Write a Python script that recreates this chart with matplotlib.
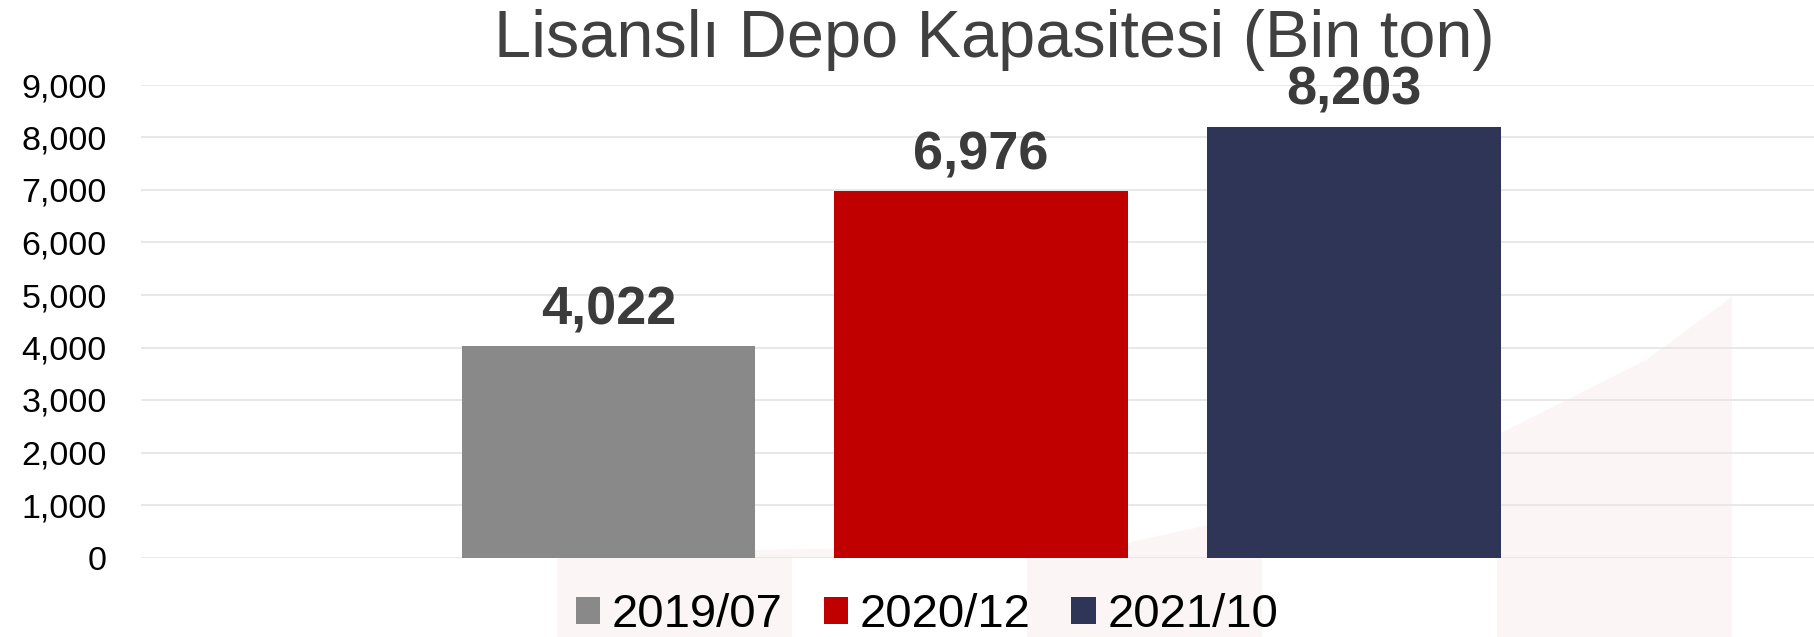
import matplotlib.pyplot as plt
from matplotlib.patches import Polygon, Rectangle
from matplotlib.ticker import FuncFormatter

plt.rcParams['font.family'] = ['Liberation Sans', 'DejaVu Sans']

# veri
donemler = ['2019/07', '2020/12', '2021/10']
kapasite = [4022, 6976, 8203]
renkler = ['#898989', '#c00000', '#2f3557']
y_ticks = [0, 1000, 2000, 3000, 4000, 5000, 6000, 7000, 8000, 9000]

W, H = 1814, 637
fig = plt.figure(figsize=(W / 100, H / 100), dpi=100)

# arka plandaki soluk logo (piksel koordinatlarinda)
bg = fig.add_axes([0, 0, 1, 1], zorder=0)
bg.set_xlim(0, W)
bg.set_ylim(H, 0)
bg.axis('off')
logo = '#fcf5f5'
for x0 in (557, 1027, 1497):
    bg.add_patch(Rectangle((x0, 557), 235, H - 557, color=logo, lw=0))
bg.add_patch(Polygon([(560, 557), (760, 550), (1127, 543), (1300, 505),
                      (1501, 433), (1646, 360), (1732, 297), (1732, 557)],
                     closed=True, color=logo, lw=0))

ax = fig.add_axes([141 / W, 1 - 557.5 / H, 1 - 141 / W, (557.5 - 85) / H], zorder=1)
ax.set_facecolor('none')

x_pos = [-1, 0, 1]
for x, v, c, lbl in zip(x_pos, kapasite, renkler, donemler):
    ax.bar(x, v, width=0.789, color=c, label=lbl, zorder=2)
    ax.annotate(f'{v:,}', (x, v), xytext=(0, 15.8), textcoords='offset points',
                ha='center', va='baseline', fontsize=39, fontweight='bold',
                color='#3b3b3b')

ax.set_xlim(-2.255, 2.236)
ax.set_ylim(0, 9000)
ax.set_yticks(y_ticks)
ax.yaxis.set_major_formatter(FuncFormatter(lambda v, p: f'{int(v):,}'))
ax.set_xticks([])
ax.tick_params(axis='y', length=0, pad=24.5, labelsize=24.5, labelcolor='black')
ax.grid(axis='y', color='#e2e2e2', linewidth=1.1, zorder=0)
ax.set_axisbelow(True)
for s in ax.spines.values():
    s.set_visible(False)

fig.text(994 / W, 1 - 57 / H, 'Lisanslı Depo Kapasitesi (Bin ton)',
         ha='center', va='baseline', fontsize=48, color='#404040')

fig.legend(loc='center', bbox_to_anchor=(927 / W, 1 - 615 / H), ncol=3,
           frameon=False, fontsize=34, handlelength=0.51, handleheight=0.51,
           handletextpad=0.25, columnspacing=0.87, borderaxespad=0, borderpad=0)

fig.savefig('out.png', dpi=100)
